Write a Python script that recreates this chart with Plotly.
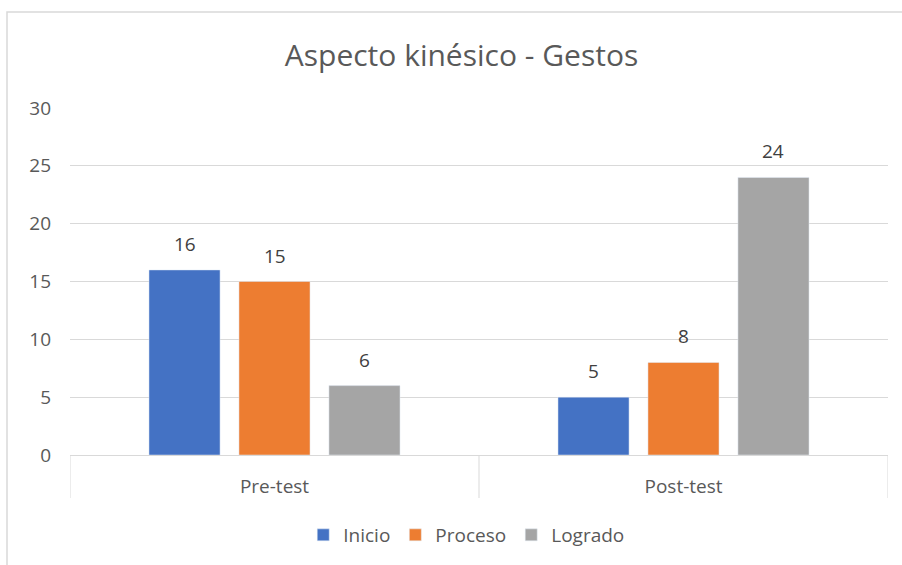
import plotly.graph_objects as go

categories = ["Pre-test", "Post-test"]
series_names = ["Inicio", "Proceso", "Logrado"]
inicio = [16, 5]
proceso = [15, 8]
logrado = [6, 24]
y_ticks = [0, 5, 10, 15, 20, 25, 30]
title = "Aspecto kinésico - Gestos"

colors = ["#4472C4", "#ED7D31", "#A5A5A5"]
FONT = "'Open Sans', sans-serif"
TXT = "#595959"
FS = 19
BARGAP = 0.34
BARGROUPGAP = 0.21

fig = go.Figure()
series = [inicio, proceso, logrado]
annotations = []
n = len(series)
slot = (1 - BARGAP) / n
for i, (name, vals, col) in enumerate(zip(series_names, series, colors)):
    fig.add_trace(go.Bar(
        x=list(range(len(categories))), y=vals, name=name, marker_color=col,
        hoverinfo="skip",
    ))
    for ci, v in enumerate(vals):
        annotations.append(dict(
            x=ci + (i - (n - 1) / 2) * slot, y=v, xref="x", yref="y",
            text=str(v), showarrow=False, yanchor="bottom", yshift=11,
            font=dict(size=FS, color="#404040", family=FONT)))

L, R, T, B = 70, 14, 108, 110
W, H = 902, 565
pw, ph = W - L - R, H - T - B

shapes = [
    dict(type="rect", xref="paper", yref="paper",
         x0=(7 - L) / pw, x1=(W + 5 - L) / pw,
         y0=(H - B - (H + 5)) / ph, y1=1 + (T - 12) / ph,
         line=dict(color="#D9D9D9", width=1.5), layer="below"),
]
for xv in [-0.5, 0.5, 1.5]:
    shapes.append(dict(type="line", xref="x", yref="paper", x0=xv, x1=xv,
                       y0=0, y1=-43 / ph, line=dict(color="#D9D9D9", width=1)))

fig.update_layout(
    width=W, height=H, barmode="group", bargap=BARGAP, bargroupgap=BARGROUPGAP,
    margin=dict(l=L, r=R, t=T, b=B, autoexpand=False),
    paper_bgcolor="white", plot_bgcolor="white",
    font=dict(family=FONT, color=TXT, size=FS),
    title=dict(text=title, x=461.5 / W, xref="container", xanchor="center",
               y=1 - 55 / H, yanchor="middle",
               font=dict(size=30, color=TXT, family=FONT)),
    legend=dict(orientation="h", x=0.485, xanchor="center", y=-80 / ph, yanchor="middle",
                font=dict(size=FS, color=TXT), itemwidth=30, traceorder="normal"),
    shapes=shapes,
    annotations=annotations,
    xaxis=dict(range=[-0.5, 1.5], tickvals=list(range(len(categories))),
               ticktext=categories, showline=True, linecolor="#D9D9D9", linewidth=1,
               ticks="outside", ticklen=14, tickcolor="rgba(0,0,0,0)",
               tickfont=dict(size=FS, color=TXT), showgrid=False, zeroline=False),
    yaxis=dict(range=[0, 30], tickvals=y_ticks, showgrid=True, gridcolor="#D9D9D9",
               gridwidth=1, zeroline=False, showline=False,
               ticklabelstandoff=18, tickfont=dict(size=FS, color=TXT)),
)
fig.write_html("out.html", config={"displayModeBar": False},
               post_script="document.body.style.margin='0';")
